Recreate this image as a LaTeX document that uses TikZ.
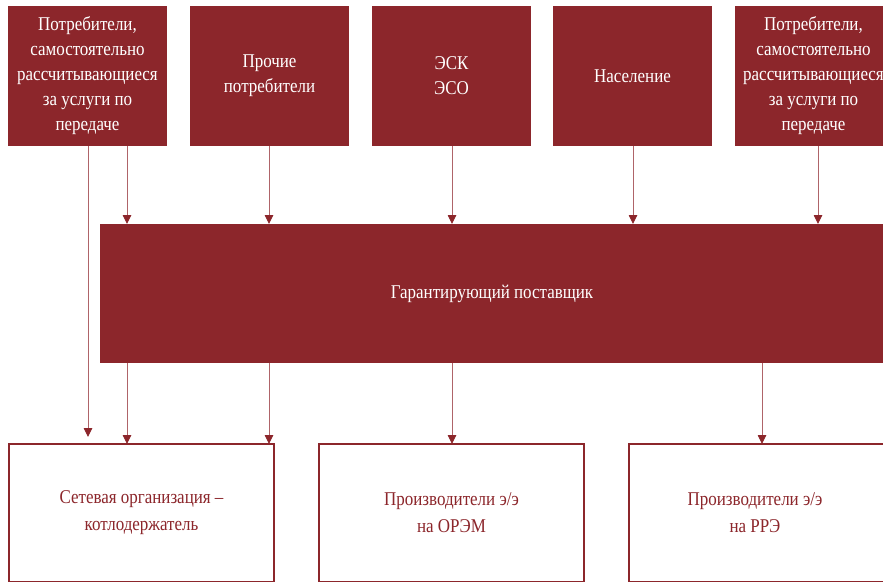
\documentclass[tikz,border=0pt]{standalone}
\usepackage{fontspec}
\setmainfont{Liberation Serif}[FakeStretch=0.87]
\usetikzlibrary{arrows.meta}
\definecolor{maroonA}{RGB}{140,38,43}
\definecolor{lineC}{RGB}{175,100,105}
\tikzset{
  fbox/.style={rectangle, fill=maroonA, draw=none, text=white, align=center, anchor=north west, inner sep=0pt, outer sep=0pt,
    font=\fontsize{19.5}{25}\selectfont},
  obox/.style={rectangle, fill=white, draw=maroonA, line width=1.3pt, text=maroonA, align=center, anchor=north west, inner sep=0pt, outer sep=0pt,
    font=\fontsize{19.5}{27}\selectfont},
  arr/.style={draw=lineC, line width=0.9pt, -{Triangle[width=8.5pt,length=9pt,color=maroonA]}},
}
\begin{document}
\begin{tikzpicture}[x=1pt,y=-1pt]
\useasboundingbox (0,0) rectangle (883,583);
\clip (0,0) rectangle (883,583);
% top boxes
\node[fbox, minimum width=159pt, minimum height=140pt] (t1) at (8,6) {Потребители,\\самостоятельно\\рассчитывающиеся\\за услуги по\\передаче};
\node[fbox, minimum width=159pt, minimum height=140pt] (t2) at (190,6) {Прочие\\потребители};
\node[fbox, minimum width=159pt, minimum height=140pt] (t3) at (372,6) {ЭСК\\ЭСО};
\node[fbox, minimum width=159pt, minimum height=140pt] (t4) at (553,6) {Население};
\node[fbox, minimum width=157pt, minimum height=140pt] (t5) at (735,6) {Потребители,\\самостоятельно\\рассчитывающиеся\\за услуги по\\передаче};
% main box
\node[fbox, minimum width=784pt, minimum height=139pt] (g) at (100,224) {Гарантирующий поставщик};
% bottom boxes
\node[obox, minimum width=265pt, minimum height=137.5pt] (b1) at (9,444) {Сетевая организация –\\котлодержатель};
\node[obox, minimum width=265pt, minimum height=137.5pt] (b2) at (319,444) {Производители э/э\\на ОРЭМ};
\node[obox, minimum width=265pt, minimum height=137.5pt] (b3) at (629,444) {};
\node[text=maroonA, align=center, font=\fontsize{19.5}{27}\selectfont] (b3t) at (755,513) {Производители э/э\\на РРЭ};
% x positions
\coordinate (xa) at (88,0);
\coordinate (xb) at (127,0);
\coordinate (xc) at (269,0);
\coordinate (xd) at (452,0);
\coordinate (xe) at (633,0);
\coordinate (xf) at (818,0);
\coordinate (xg) at (762,0);
\coordinate (ea) at (88,437);
% arrows into main box
\draw[arr] (t1.south -| xa) -- (ea);
\draw[arr] (t1.south -| xb) -- (g.north -| xb);
\draw[arr] (t2.south -| xc) -- (g.north -| xc);
\draw[arr] (t3.south -| xd) -- (g.north -| xd);
\draw[arr] (t4.south -| xe) -- (g.north -| xe);
\draw[arr] (t5.south -| xf) -- (g.north -| xf);
% arrows out of main box
\draw[arr] (g.south -| xb) -- (b1.north -| xb);
\draw[arr] (g.south -| xc) -- (b1.north -| xc);
\draw[arr] (g.south -| xd) -- (b2.north -| xd);
\draw[arr] (g.south -| xg) -- (b3.north -| xg);
\end{tikzpicture}
\end{document}
